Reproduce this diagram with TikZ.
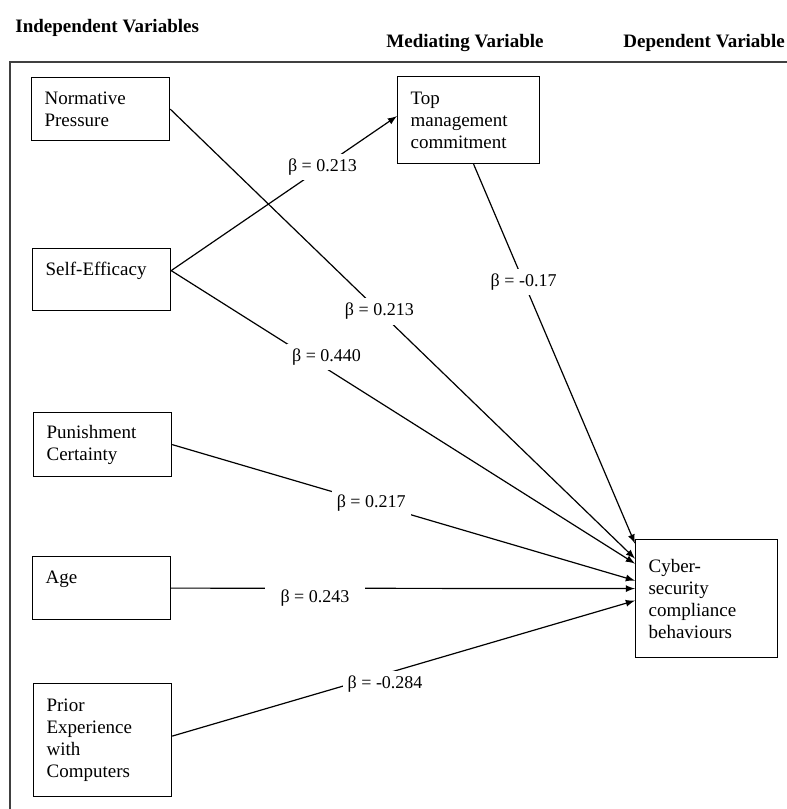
\documentclass[tikz,border=0pt]{standalone}
\usepackage{fontspec}
\setmainfont{Liberation Serif}
\usetikzlibrary{arrows,positioning}

\tikzset{
  varbox/.style={draw, line width=0.6pt, anchor=north west, align=left, inner xsep=6.5pt, inner ysep=0pt, text width=56pt, font=\fontsize{9.5}{11}\selectfont},
  onebox/.style={varbox, text depth=11pt},
  link/.style={->, >=latex, line width=0.6pt},
  coef/.style={fill=white, inner sep=2.5pt, font=\fontsize{9}{10}\selectfont},
  heading/.style={anchor=west, inner sep=0pt, font=\bfseries\fontsize{9.5}{11}\selectfont}
}

\begin{document}
\begin{tikzpicture}[x=0.5pt, y=-0.5pt]
\useasboundingbox (0,0) rectangle (787,809);
% frame
\draw[line width=1pt, black!75] (787,62) -- (10,62) -- (10,809);

% headings
\node[heading] (hind) at (15,28) {Independent Variables};
\node[heading] (hmed) at (386,43) {Mediating Variable};
\node[heading] (hdep) at (623,43) {Dependent Variable};

% variables
\node[varbox, minimum height=31.5pt] (norm) at (31,77) {Normative\\Pressure};
\node[onebox, minimum height=31pt] (self) at (32,248) {Self-Efficacy};
\node[varbox, minimum height=32pt] (pun) at (33,412) {Punishment\\Certainty};
\node[onebox, minimum height=31.5pt] (age) at (32,556) {Age};
\node[varbox, minimum height=56.5pt] (prior) at (33,683) {Prior\\Experience\\with\\Computers};
\node[varbox, text width=58pt, minimum height=43.5pt] (top) at (397,76) {Top\\management\\commitment};
\node[varbox, text width=58pt, minimum height=59pt] (cyber) at (635,539) {Cyber-\\security\\compliance\\behaviours};

% paths
\draw[link] ([yshift=4.5pt]self.east) -- node[coef, pos=0.67] {β = 0.213} ([yshift=2pt]top.west);
\draw[link] (norm.east) -- node[coef, pos=0.45] {β = 0.213} ([yshift=20pt]cyber.west);
\draw[link] ([yshift=4.5pt]self.east) -- node[coef, pos=0.335, yshift=6pt] {β = 0.440} ([yshift=17.5pt]cyber.west);
\draw[link] ([xshift=2.5pt]top.south) -- node[coef, pos=0.31] {β = -0.17} ([yshift=27.5pt]cyber.west);
\draw[link] (pun.east) -- node[coef, pos=0.43] {β = 0.217} ([yshift=9pt]cyber.west);
\draw[link] (age.east) -- node[coef, pos=0.31, yshift=-5pt, inner xsep=8pt] {β = 0.243} ([yshift=5pt]cyber.west);
\draw[link] ([yshift=2pt]prior.east) -- node[coef, pos=0.46, yshift=-5pt] {β = -0.284} ([yshift=-1pt]cyber.west);
\end{tikzpicture}
\end{document}
